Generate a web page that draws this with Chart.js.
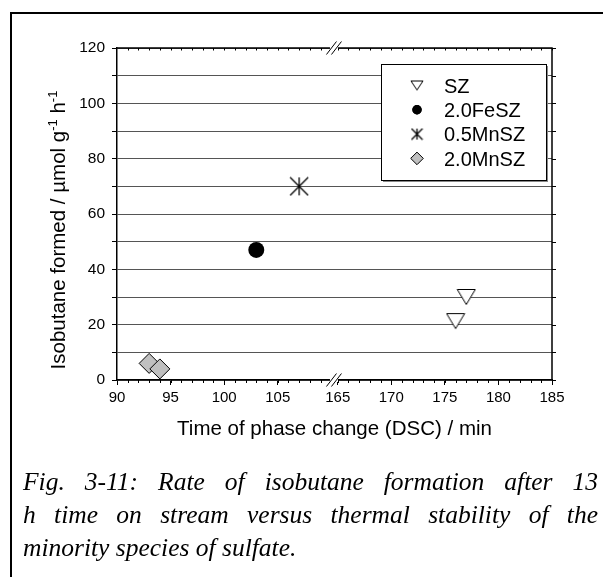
<!DOCTYPE html>
<html>
<head>
<meta charset="utf-8">
<script src="https://cdn.jsdelivr.net/npm/chart.js@4.4.1/dist/chart.umd.min.js"></script>
<style>
  body { margin: 0; background: #fff; width: 603px; height: 577px; overflow: hidden; position: relative; }
  #frame { position: absolute; left: 10px; top: 12px; right: -10px; bottom: -10px; border-left: 2px solid #000; border-top: 2px solid #000; }
  #wrap { position: absolute; left: 0; top: 0; width: 603px; height: 470px; }
  #caption { position: absolute; left: 23px; top: 465px; width: 575px; font-family: 'Liberation Serif', 'Times New Roman', serif; font-style: italic; font-size: 25.5px; line-height: 33px; color: #000; }
  .j { text-align: justify; text-align-last: justify; }
</style>
</head>
<body>
<div id="frame"></div>
<div id="wrap"><canvas id="chart"></canvas></div>
<div id="caption">
  <div class="j">Fig. 3-11: Rate of isobutane formation after 13</div>
  <div class="j">h time on stream versus thermal stability of the</div>
  <div>minority species of sulfate.</div>
</div>
<script>
// data (x = time of phase change in min, y = isobutane formed)
const seriesNames = ['SZ', '2.0FeSZ', '0.5MnSZ', '2.0MnSZ'];
const szX = [176, 177];
const szY = [21.3, 30];
const feX = [103];
const feY = [47];
const mn05X = [107];
const mn05Y = [70];
const mn20X = [93, 94];
const mn20Y = [6, 4];
const xTicks = [90, 95, 100, 105, 165, 170, 175, 180, 185];

// broken x axis: 165 is drawn 5.6 units after 105
const gapShift = 54.4;
const breakAt = 110.25;
function toAxis(v) { return v >= 160 ? v - gapShift : v; }
function fromAxis(v) { return v > 108 ? v + gapShift : v; }
const pts = (xs, ys) => xs.map((x, i) => ({ x: toAxis(x), y: ys[i] }));

const minorX = [];
for (let v = 91; v <= 109; v++) minorX.push(v);
for (let v = 165; v <= 185; v++) minorX.push(v);

Chart.defaults.font.family = "'Liberation Sans', Arial, sans-serif";
Chart.defaults.color = '#000';

function triMarker(w, h) {
  const c = document.createElement('canvas');
  c.width = w + 2; c.height = h + 2;
  const g = c.getContext('2d');
  g.beginPath();
  g.moveTo(1, 1.5); g.lineTo(w + 1, 1.5); g.lineTo(w / 2 + 1, h + 0.5); g.closePath();
  g.fillStyle = '#fff'; g.fill();
  g.lineWidth = 1; g.strokeStyle = '#000'; g.stroke();
  return c;
}
function starMarker(s) {
  const c = document.createElement('canvas');
  c.width = s + 2; c.height = s + 2;
  const g = c.getContext('2d');
  g.lineWidth = 1.3; g.strokeStyle = '#000';
  g.beginPath();
  g.moveTo(1, 1); g.lineTo(s + 1, s + 1);
  g.moveTo(s + 1, 1); g.lineTo(1, s + 1);
  g.moveTo(s / 2 + 1, 1); g.lineTo(s / 2 + 1, s + 1);
  g.stroke();
  return c;
}

const decor = {
  id: 'decor',
  afterDraw(chart) {
    const { ctx, chartArea: a, scales: { x, y } } = chart;
    ctx.save();
    ctx.strokeStyle = '#000';
    ctx.lineWidth = 1.5;
    ctx.beginPath();
    ctx.moveTo(a.left, a.top); ctx.lineTo(a.right, a.top); ctx.lineTo(a.right, a.bottom);
    ctx.stroke();

    ctx.lineWidth = 1;
    ctx.beginPath();
    minorX.forEach(v => {
      const px = Math.round(x.getPixelForValue(toAxis(v))) + 0.5;
      ctx.moveTo(px, a.bottom); ctx.lineTo(px, a.bottom + 3);
      ctx.moveTo(px, a.top); ctx.lineTo(px, a.top + 2.5);
    });
    for (let v = 0; v <= 120; v += 10) {
      const py = Math.round(y.getPixelForValue(v)) + 0.5;
      ctx.moveTo(a.right, py); ctx.lineTo(a.right + 4, py);
    }
    ctx.stroke();

    // axis breaks
    const bx = x.getPixelForValue(breakAt);
    [a.top, a.bottom].forEach(by => {
      ctx.fillStyle = '#fff';
      ctx.fillRect(bx - 4, by - 2, 8, 4);
      ctx.beginPath();
      ctx.moveTo(bx - 7.5, by + 6.5); ctx.lineTo(bx + 2.5, by - 6.5);
      ctx.moveTo(bx - 2.5, by + 6.5); ctx.lineTo(bx + 7.5, by - 6.5);
      ctx.stroke();
    });

    // y axis title with superscripts
    const big = "20.5px 'Liberation Sans', Arial, sans-serif";
    const small = "13px 'Liberation Sans', Arial, sans-serif";
    const parts = [['Isobutane formed / µmol g', false], ['-1', true], [' h', false], ['-1', true]];
    let total = 0;
    parts.forEach(p => { ctx.font = p[1] ? small : big; total += ctx.measureText(p[0]).width; });
    ctx.save();
    ctx.translate(65, 230);
    ctx.rotate(-Math.PI / 2);
    ctx.fillStyle = '#000';
    ctx.textBaseline = 'alphabetic';
    let cx = -total / 2;
    parts.forEach(p => {
      ctx.font = p[1] ? small : big;
      ctx.fillText(p[0], cx, p[1] ? -8 : 0);
      cx += ctx.measureText(p[0]).width;
    });
    ctx.restore();

    // legend box
    const lx = 381, ly = 64, lw = 165, lh = 116;
    ctx.fillStyle = '#888';
    ctx.fillRect(lx + 2, ly + 2, lw, lh);
    ctx.fillStyle = '#fff';
    ctx.fillRect(lx, ly, lw, lh);
    ctx.lineWidth = 1;
    ctx.strokeRect(lx + 0.5, ly + 0.5, lw, lh);
    const symX = 417, textX = 444;
    const icons = [
      { pointStyle: triMarker(12, 10), radius: 6 },
      { pointStyle: 'circle', radius: 4.7, fill: '#000', bw: 0 },
      { pointStyle: starMarker(11), radius: 6 },
      { pointStyle: 'rectRot', radius: 6.3, fill: '#c0c0c0', bw: 1 }
    ];
    ctx.font = "20px 'Liberation Sans', Arial, sans-serif";
    seriesNames.forEach((name, i) => {
      const ry = 85.5 + i * 24.3;
      const ic = icons[i];
      ctx.fillStyle = ic.fill || '#fff';
      ctx.strokeStyle = '#000';
      ctx.lineWidth = ic.bw || 1;
      Chart.helpers.drawPoint(ctx, { pointStyle: ic.pointStyle, radius: ic.radius, rotation: 0, borderWidth: ic.bw || 0 }, symX, ry);
      if (ic.pointStyle === 'circle') ctx.fill();
      ctx.fillStyle = '#000';
      ctx.textBaseline = 'alphabetic';
      ctx.fillText(name, textX, ry + 7.2);
    });
    ctx.restore();
  }
};

new Chart(document.getElementById('chart'), {
  type: 'scatter',
  data: {
    datasets: [
      { label: seriesNames[0], data: pts(szX, szY), pointStyle: triMarker(18, 16), pointRadius: 10 },
      { label: seriesNames[1], data: pts(feX, feY), pointStyle: 'circle', pointRadius: 8, backgroundColor: '#000', borderColor: '#000', borderWidth: 0 },
      { label: seriesNames[2], data: pts(mn05X, mn05Y), pointStyle: starMarker(18), pointRadius: 10 },
      { label: seriesNames[3], data: pts(mn20X, mn20Y), pointStyle: 'rectRot', pointRadius: 10, backgroundColor: '#c0c0c0', borderColor: '#000', borderWidth: 1 }
    ]
  },
  options: {
    responsive: true,
    maintainAspectRatio: false,
    animation: false,
    events: [],
    layout: { padding: { left: 0, top: 48, right: 51, bottom: 0 } },
    plugins: { legend: { display: false }, tooltip: { enabled: false } },
    scales: {
      x: {
        type: 'linear',
        min: 90,
        max: toAxis(185),
        afterBuildTicks: s => { s.ticks = xTicks.map(v => ({ value: toAxis(v) })); },
        afterFit: s => { s.height = 90; },
        ticks: { callback: v => Math.round(fromAxis(v)), font: { size: 15 }, padding: 4, maxRotation: 0, autoSkip: false },
        grid: { drawOnChartArea: false, tickLength: 5, tickColor: '#000' },
        border: { color: '#000', width: 1.5 },
        title: { display: true, text: 'Time of phase change (DSC) / min', font: { size: 20.5 }, padding: { top: 0, bottom: 28 } }
      },
      y: {
        min: 0,
        max: 120,
        afterFit: s => { s.width = 117; },
        ticks: { stepSize: 10, callback: v => (v % 20 === 0 ? v : ''), font: { size: 15.5 }, padding: 7 },
        grid: { color: '#555', tickLength: 5, tickColor: '#000' },
        border: { color: '#000', width: 1.5 }
      }
    }
  },
  plugins: [decor]
});
</script>
</body>
</html>
